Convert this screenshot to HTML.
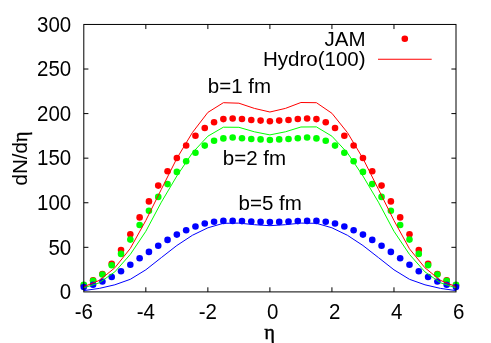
<!DOCTYPE html>
<html><head><meta charset="utf-8"><title>dN/deta</title>
<style>
html,body{margin:0;padding:0;background:#fff;}
body{width:491px;height:343px;overflow:hidden;font-family:"Liberation Sans",sans-serif;}
svg{will-change:transform;}
</style></head><body>
<svg width="491" height="343" viewBox="0 0 491 343" style="display:block">
<rect x="0" y="0" width="491" height="343" fill="#fff"/>
<circle cx="83.80" cy="285.20" r="3.3" fill="#ff0000"/>
<circle cx="93.10" cy="280.30" r="3.3" fill="#ff0000"/>
<circle cx="102.41" cy="274.00" r="3.3" fill="#ff0000"/>
<circle cx="111.72" cy="263.80" r="3.3" fill="#ff0000"/>
<circle cx="121.02" cy="250.00" r="3.3" fill="#ff0000"/>
<circle cx="130.32" cy="234.20" r="3.3" fill="#ff0000"/>
<circle cx="139.63" cy="217.40" r="3.3" fill="#ff0000"/>
<circle cx="148.94" cy="201.40" r="3.3" fill="#ff0000"/>
<circle cx="158.24" cy="185.60" r="3.3" fill="#ff0000"/>
<circle cx="167.54" cy="171.30" r="3.3" fill="#ff0000"/>
<circle cx="176.85" cy="158.00" r="3.3" fill="#ff0000"/>
<circle cx="186.16" cy="145.50" r="3.3" fill="#ff0000"/>
<circle cx="195.46" cy="135.70" r="3.3" fill="#ff0000"/>
<circle cx="204.76" cy="128.00" r="3.3" fill="#ff0000"/>
<circle cx="214.07" cy="122.20" r="3.3" fill="#ff0000"/>
<circle cx="223.38" cy="119.10" r="3.3" fill="#ff0000"/>
<circle cx="232.68" cy="118.50" r="3.3" fill="#ff0000"/>
<circle cx="241.98" cy="119.00" r="3.3" fill="#ff0000"/>
<circle cx="251.29" cy="120.00" r="3.3" fill="#ff0000"/>
<circle cx="260.59" cy="120.60" r="3.3" fill="#ff0000"/>
<circle cx="269.90" cy="121.20" r="3.3" fill="#ff0000"/>
<circle cx="279.20" cy="120.60" r="3.3" fill="#ff0000"/>
<circle cx="288.51" cy="120.00" r="3.3" fill="#ff0000"/>
<circle cx="297.81" cy="119.00" r="3.3" fill="#ff0000"/>
<circle cx="307.12" cy="118.50" r="3.3" fill="#ff0000"/>
<circle cx="316.43" cy="119.10" r="3.3" fill="#ff0000"/>
<circle cx="325.73" cy="122.20" r="3.3" fill="#ff0000"/>
<circle cx="335.03" cy="128.00" r="3.3" fill="#ff0000"/>
<circle cx="344.34" cy="135.70" r="3.3" fill="#ff0000"/>
<circle cx="353.64" cy="145.50" r="3.3" fill="#ff0000"/>
<circle cx="362.95" cy="158.00" r="3.3" fill="#ff0000"/>
<circle cx="372.25" cy="171.30" r="3.3" fill="#ff0000"/>
<circle cx="381.56" cy="185.60" r="3.3" fill="#ff0000"/>
<circle cx="390.87" cy="201.40" r="3.3" fill="#ff0000"/>
<circle cx="400.17" cy="217.40" r="3.3" fill="#ff0000"/>
<circle cx="409.48" cy="234.20" r="3.3" fill="#ff0000"/>
<circle cx="418.78" cy="250.00" r="3.3" fill="#ff0000"/>
<circle cx="428.09" cy="263.80" r="3.3" fill="#ff0000"/>
<circle cx="437.39" cy="274.00" r="3.3" fill="#ff0000"/>
<circle cx="446.69" cy="280.30" r="3.3" fill="#ff0000"/>
<circle cx="456.00" cy="285.20" r="3.3" fill="#ff0000"/>
<circle cx="83.80" cy="284.70" r="3.3" fill="#00ff00"/>
<circle cx="93.10" cy="280.80" r="3.3" fill="#00ff00"/>
<circle cx="102.41" cy="274.50" r="3.3" fill="#00ff00"/>
<circle cx="111.72" cy="265.30" r="3.3" fill="#00ff00"/>
<circle cx="121.02" cy="253.90" r="3.3" fill="#00ff00"/>
<circle cx="130.32" cy="239.60" r="3.3" fill="#00ff00"/>
<circle cx="139.63" cy="225.00" r="3.3" fill="#00ff00"/>
<circle cx="148.94" cy="210.70" r="3.3" fill="#00ff00"/>
<circle cx="158.24" cy="196.90" r="3.3" fill="#00ff00"/>
<circle cx="167.54" cy="184.10" r="3.3" fill="#00ff00"/>
<circle cx="176.85" cy="171.90" r="3.3" fill="#00ff00"/>
<circle cx="186.16" cy="161.30" r="3.3" fill="#00ff00"/>
<circle cx="195.46" cy="152.80" r="3.3" fill="#00ff00"/>
<circle cx="204.76" cy="145.60" r="3.3" fill="#00ff00"/>
<circle cx="214.07" cy="140.70" r="3.3" fill="#00ff00"/>
<circle cx="223.38" cy="138.40" r="3.3" fill="#00ff00"/>
<circle cx="232.68" cy="137.50" r="3.3" fill="#00ff00"/>
<circle cx="241.98" cy="138.20" r="3.3" fill="#00ff00"/>
<circle cx="251.29" cy="139.00" r="3.3" fill="#00ff00"/>
<circle cx="260.59" cy="139.40" r="3.3" fill="#00ff00"/>
<circle cx="269.90" cy="140.00" r="3.3" fill="#00ff00"/>
<circle cx="279.20" cy="139.40" r="3.3" fill="#00ff00"/>
<circle cx="288.51" cy="139.00" r="3.3" fill="#00ff00"/>
<circle cx="297.81" cy="138.20" r="3.3" fill="#00ff00"/>
<circle cx="307.12" cy="137.50" r="3.3" fill="#00ff00"/>
<circle cx="316.43" cy="138.40" r="3.3" fill="#00ff00"/>
<circle cx="325.73" cy="140.70" r="3.3" fill="#00ff00"/>
<circle cx="335.03" cy="145.60" r="3.3" fill="#00ff00"/>
<circle cx="344.34" cy="152.80" r="3.3" fill="#00ff00"/>
<circle cx="353.64" cy="161.30" r="3.3" fill="#00ff00"/>
<circle cx="362.95" cy="171.90" r="3.3" fill="#00ff00"/>
<circle cx="372.25" cy="184.10" r="3.3" fill="#00ff00"/>
<circle cx="381.56" cy="196.90" r="3.3" fill="#00ff00"/>
<circle cx="390.87" cy="210.70" r="3.3" fill="#00ff00"/>
<circle cx="400.17" cy="225.00" r="3.3" fill="#00ff00"/>
<circle cx="409.48" cy="239.60" r="3.3" fill="#00ff00"/>
<circle cx="418.78" cy="253.90" r="3.3" fill="#00ff00"/>
<circle cx="428.09" cy="265.30" r="3.3" fill="#00ff00"/>
<circle cx="437.39" cy="274.50" r="3.3" fill="#00ff00"/>
<circle cx="446.69" cy="280.80" r="3.3" fill="#00ff00"/>
<circle cx="456.00" cy="284.70" r="3.3" fill="#00ff00"/>
<circle cx="83.80" cy="287.00" r="3.3" fill="#0000ff"/>
<circle cx="93.10" cy="284.70" r="3.3" fill="#0000ff"/>
<circle cx="102.41" cy="281.50" r="3.3" fill="#0000ff"/>
<circle cx="111.72" cy="277.00" r="3.3" fill="#0000ff"/>
<circle cx="121.02" cy="271.30" r="3.3" fill="#0000ff"/>
<circle cx="130.32" cy="264.70" r="3.3" fill="#0000ff"/>
<circle cx="139.63" cy="258.20" r="3.3" fill="#0000ff"/>
<circle cx="148.94" cy="251.90" r="3.3" fill="#0000ff"/>
<circle cx="158.24" cy="245.80" r="3.3" fill="#0000ff"/>
<circle cx="167.54" cy="239.90" r="3.3" fill="#0000ff"/>
<circle cx="176.85" cy="234.60" r="3.3" fill="#0000ff"/>
<circle cx="186.16" cy="230.30" r="3.3" fill="#0000ff"/>
<circle cx="195.46" cy="226.50" r="3.3" fill="#0000ff"/>
<circle cx="204.76" cy="223.50" r="3.3" fill="#0000ff"/>
<circle cx="214.07" cy="221.70" r="3.3" fill="#0000ff"/>
<circle cx="223.38" cy="220.90" r="3.3" fill="#0000ff"/>
<circle cx="232.68" cy="220.90" r="3.3" fill="#0000ff"/>
<circle cx="241.98" cy="221.10" r="3.3" fill="#0000ff"/>
<circle cx="251.29" cy="221.50" r="3.3" fill="#0000ff"/>
<circle cx="260.59" cy="221.90" r="3.3" fill="#0000ff"/>
<circle cx="269.90" cy="222.10" r="3.3" fill="#0000ff"/>
<circle cx="279.20" cy="221.90" r="3.3" fill="#0000ff"/>
<circle cx="288.51" cy="221.50" r="3.3" fill="#0000ff"/>
<circle cx="297.81" cy="221.10" r="3.3" fill="#0000ff"/>
<circle cx="307.12" cy="220.90" r="3.3" fill="#0000ff"/>
<circle cx="316.43" cy="220.90" r="3.3" fill="#0000ff"/>
<circle cx="325.73" cy="221.70" r="3.3" fill="#0000ff"/>
<circle cx="335.03" cy="223.50" r="3.3" fill="#0000ff"/>
<circle cx="344.34" cy="226.50" r="3.3" fill="#0000ff"/>
<circle cx="353.64" cy="230.30" r="3.3" fill="#0000ff"/>
<circle cx="362.95" cy="234.60" r="3.3" fill="#0000ff"/>
<circle cx="372.25" cy="239.90" r="3.3" fill="#0000ff"/>
<circle cx="381.56" cy="245.80" r="3.3" fill="#0000ff"/>
<circle cx="390.87" cy="251.90" r="3.3" fill="#0000ff"/>
<circle cx="400.17" cy="258.20" r="3.3" fill="#0000ff"/>
<circle cx="409.48" cy="264.70" r="3.3" fill="#0000ff"/>
<circle cx="418.78" cy="271.30" r="3.3" fill="#0000ff"/>
<circle cx="428.09" cy="277.00" r="3.3" fill="#0000ff"/>
<circle cx="437.39" cy="281.50" r="3.3" fill="#0000ff"/>
<circle cx="446.69" cy="284.70" r="3.3" fill="#0000ff"/>
<circle cx="456.00" cy="287.00" r="3.3" fill="#0000ff"/>
<polyline points="83.80,290.60 99.31,288.40 114.82,284.80 130.32,279.30 145.83,269.80 161.34,257.60 176.85,245.50 192.36,235.30 207.87,227.80 223.38,223.30 238.88,223.10 254.39,224.70 269.90,225.70 285.41,224.70 300.92,223.10 316.43,223.30 331.93,227.80 347.44,235.30 362.95,245.50 378.46,257.60 393.97,269.80 409.48,279.30 424.98,284.80 440.49,288.40 456.00,290.60" fill="none" stroke="#0000ff" stroke-width="1" stroke-linejoin="round"/>
<polyline points="83.80,287.80 99.31,282.80 114.82,271.90 130.32,254.40 145.83,231.30 161.34,202.20 176.85,176.00 192.36,152.90 207.87,136.20 223.38,127.20 238.88,127.30 254.39,131.80 269.90,134.90 285.41,131.80 300.92,127.00 316.43,126.90 331.93,136.20 347.44,152.90 362.95,176.00 378.46,202.20 393.97,231.30 409.48,254.40 424.98,271.90 440.49,282.80 456.00,287.80" fill="none" stroke="#00ff00" stroke-width="1" stroke-linejoin="round"/>
<polyline points="83.80,286.70 99.31,280.40 114.82,267.80 130.32,248.40 145.83,220.50 161.34,189.30 176.85,158.40 192.36,132.60 207.87,112.40 223.38,102.70 238.88,103.20 254.39,108.40 269.90,112.00 285.41,108.40 300.92,102.50 316.43,102.70 331.93,113.30 347.44,132.60 362.95,158.40 378.46,189.30 393.97,220.50 409.48,248.80 424.98,267.80 440.49,280.40 456.00,286.70" fill="none" stroke="#ff0000" stroke-width="1" stroke-linejoin="round"/>
<circle cx="404.8" cy="38.8" r="3.3" fill="#ff0000"/>
<line x1="378" y1="59.25" x2="431.7" y2="59.25" stroke="#ff0000" stroke-width="1"/>
<rect x="83.8" y="24.45" width="372.2" height="267.45" fill="none" stroke="#000" stroke-width="1"/>
<line x1="145.83" y1="291.9" x2="145.83" y2="287.29999999999995" stroke="#000" stroke-width="1"/>
<line x1="145.83" y1="24.45" x2="145.83" y2="29.049999999999997" stroke="#000" stroke-width="1"/>
<line x1="83.8" y1="247.32" x2="88.39999999999999" y2="247.32" stroke="#000" stroke-width="1"/>
<line x1="456.0" y1="247.32" x2="451.4" y2="247.32" stroke="#000" stroke-width="1"/>
<line x1="207.87" y1="291.9" x2="207.87" y2="287.29999999999995" stroke="#000" stroke-width="1"/>
<line x1="207.87" y1="24.45" x2="207.87" y2="29.049999999999997" stroke="#000" stroke-width="1"/>
<line x1="83.8" y1="202.75" x2="88.39999999999999" y2="202.75" stroke="#000" stroke-width="1"/>
<line x1="456.0" y1="202.75" x2="451.4" y2="202.75" stroke="#000" stroke-width="1"/>
<line x1="269.90" y1="291.9" x2="269.90" y2="287.29999999999995" stroke="#000" stroke-width="1"/>
<line x1="269.90" y1="24.45" x2="269.90" y2="29.049999999999997" stroke="#000" stroke-width="1"/>
<line x1="83.8" y1="158.17" x2="88.39999999999999" y2="158.17" stroke="#000" stroke-width="1"/>
<line x1="456.0" y1="158.17" x2="451.4" y2="158.17" stroke="#000" stroke-width="1"/>
<line x1="331.93" y1="291.9" x2="331.93" y2="287.29999999999995" stroke="#000" stroke-width="1"/>
<line x1="331.93" y1="24.45" x2="331.93" y2="29.049999999999997" stroke="#000" stroke-width="1"/>
<line x1="83.8" y1="113.60" x2="88.39999999999999" y2="113.60" stroke="#000" stroke-width="1"/>
<line x1="456.0" y1="113.60" x2="451.4" y2="113.60" stroke="#000" stroke-width="1"/>
<line x1="393.97" y1="291.9" x2="393.97" y2="287.29999999999995" stroke="#000" stroke-width="1"/>
<line x1="393.97" y1="24.45" x2="393.97" y2="29.049999999999997" stroke="#000" stroke-width="1"/>
<line x1="83.8" y1="69.02" x2="88.39999999999999" y2="69.02" stroke="#000" stroke-width="1"/>
<line x1="456.0" y1="69.02" x2="451.4" y2="69.02" stroke="#000" stroke-width="1"/>
<g font-family="'Liberation Sans', sans-serif" font-size="20.5" fill="#000">
<text transform="translate(71.2,299.10) scale(1,1.045)" text-anchor="end">0</text>
<text transform="translate(83.80,319.3) scale(1,1.045)" text-anchor="middle">-6</text>
<text transform="translate(71.2,254.52) scale(1,1.045)" text-anchor="end">50</text>
<text transform="translate(145.83,319.3) scale(1,1.045)" text-anchor="middle">-4</text>
<text transform="translate(71.2,209.95) scale(1,1.045)" text-anchor="end">100</text>
<text transform="translate(207.87,319.3) scale(1,1.045)" text-anchor="middle">-2</text>
<text transform="translate(71.2,165.37) scale(1,1.045)" text-anchor="end">150</text>
<text transform="translate(272.70,319.3) scale(1,1.045)" text-anchor="middle">0</text>
<text transform="translate(71.2,120.80) scale(1,1.045)" text-anchor="end">200</text>
<text transform="translate(334.73,319.3) scale(1,1.045)" text-anchor="middle">2</text>
<text transform="translate(71.2,76.22) scale(1,1.045)" text-anchor="end">250</text>
<text transform="translate(396.77,319.3) scale(1,1.045)" text-anchor="middle">4</text>
<text transform="translate(71.2,31.65) scale(1,1.045)" text-anchor="end">300</text>
<text transform="translate(458.80,319.3) scale(1,1.045)" text-anchor="middle">6</text>
<text x="365.6" y="45.7" text-anchor="end">JAM</text>
<text x="365.6" y="66.0" text-anchor="end">Hydro(100)</text>
<text x="207.8" y="93.3">b=1 fm</text>
<text x="222.8" y="165.0">b=2 fm</text>
<text x="238.6" y="209.6">b=5 fm</text>
<text transform="translate(27.1,158.5) rotate(-90)" text-anchor="middle">dN/d<tspan font-family="'Liberation Serif', serif" stroke="#000" stroke-width="0.4">η</tspan></text>
<text x="269.6" y="338.8" text-anchor="middle" font-family="'Liberation Serif', serif" stroke="#000" stroke-width="0.4">η</text>
</g>
</svg>
</body></html>
